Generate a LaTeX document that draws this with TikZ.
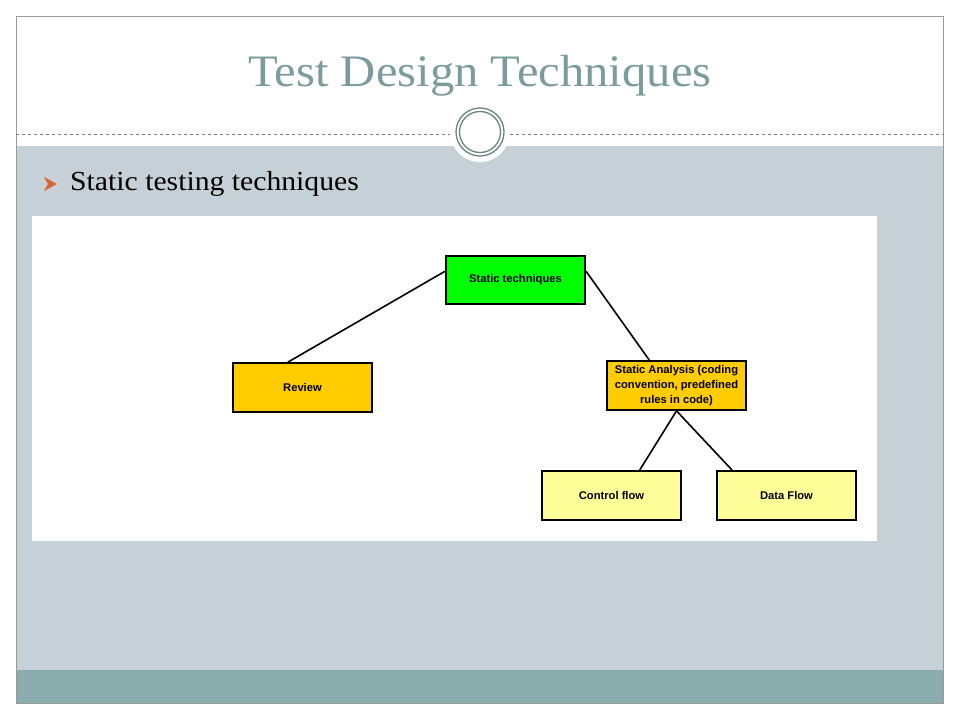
\documentclass[tikz,border=0pt]{standalone}
\usepackage{fontspec}
\setmainfont{Liberation Serif}[FakeStretch=1.08]
\newfontfamily\boxfont{Liberation Sans}
\usetikzlibrary{positioning,calc}
\definecolor{slidegrey}{HTML}{C5D0D7}
\definecolor{footteal}{HTML}{8AACAD}
\definecolor{titleteal}{HTML}{7B9B9C}
\definecolor{bulletorange}{HTML}{D8662E}
\definecolor{rootgreen}{HTML}{00FF00}
\definecolor{midgold}{HTML}{FFCC00}
\definecolor{leafyellow}{HTML}{FFFF99}

\begin{document}
\begin{tikzpicture}[x=1pt,y=-1pt,
    box/.style={draw, line width=2.2pt, minimum width=139pt, minimum height=48.5pt,
        inner sep=1pt, align=center,
        font=\boxfont\bfseries\fontsize{11.2}{15}\selectfont},
    link/.style={line width=1.6pt}]
    \useasboundingbox (0,0) rectangle (960,720);

    % Slide
    \fill[white] (0,0) rectangle (960,720);
    \fill[slidegrey] (16,146) rectangle (943,670);
    \fill[footteal] (16,670) rectangle (943,703);
    \draw[gray!80, line width=0.8pt] (16,703) -- (16,16) -- (943,16) -- (943,703) -- cycle;
    \draw[gray, dashed, line width=0.5pt] (16,134) -- (450,134);
    \draw[gray, dashed, line width=0.5pt] (510,134) -- (943,134);
    \fill[white] (480,132) circle (30);
    \draw[titleteal!85!black, line width=1.3pt] (480,132) circle (24);
    \draw[titleteal!85!black, line width=1.3pt] (480,132) circle (20.5);

    \node[titleteal] (title) at (480,76) {\fontsize{45}{50}\selectfont Test Design Techniques};

    % Bullet
    \fill[bulletorange] (44,177) -- (57,184) -- (44,191) -- (48,184) -- cycle;
    \node[anchor=west, inner sep=0pt] (bullet) at (70,184) {\fontsize{27.5}{30}\selectfont Static testing techniques};

    % Diagram
    \fill[white] (32,216) rectangle (877,541);
    \node[box, fill=rootgreen] (st) at (515.5,280) {Static techniques};
    \node[box, fill=midgold] (rv) at (302.5,387.5) {Review};
    \node[box, fill=midgold] (sa) at (676.5,385.5) {Static Analysis (coding\\convention, predefined\\rules in code)};
    \node[box, fill=leafyellow] (cf) at (611.5,495.5) {Control flow};
    \node[box, fill=leafyellow] (df) at (786.5,495.5) {Data Flow};

    \draw[link] (st.173) -- (rv.120);
    \draw[link] (st.7) -- (sa.137);
    \draw[link] (sa.south) -- (cf.42);
    \draw[link] (sa.south) -- (df.155);
\end{tikzpicture}
\end{document}
